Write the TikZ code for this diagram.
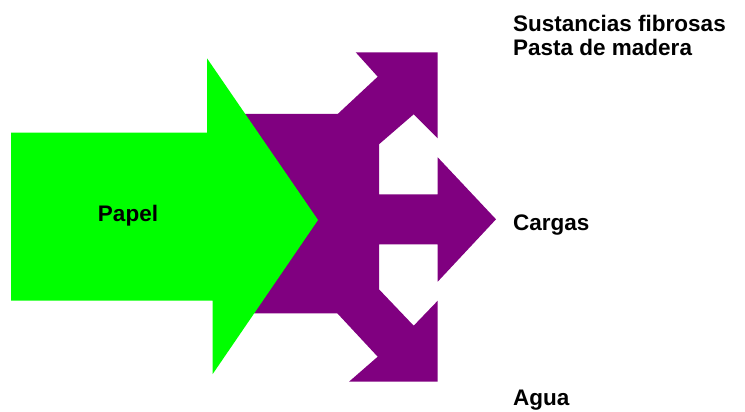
\documentclass[tikz,border=0pt]{standalone}
\usepackage{fontspec}
\setmainfont{Liberation Sans}
\usepackage{tikz}
\usetikzlibrary{positioning, calc}
\definecolor{papelgreen}{HTML}{00FF00}
\definecolor{splitpurple}{HTML}{800080}
\tikzset{
  inflow/.style={fill=papelgreen, draw=none},
  outflow/.style={fill=splitpurple, draw=none},
  flowlabel/.style={font=\fontsize{22.5}{27}\selectfont\bfseries, inner sep=0pt, anchor=base west},
}
\begin{document}
\begin{tikzpicture}[x=1pt, y=-1pt]
  \useasboundingbox (0,0) rectangle (745,412);

  % Split arrow (outputs)
  \fill[outflow] (230,114) -- (337.7,114) -- (377.7,76.7) -- (355.7,52.3) -- (437.7,52.3)
    -- (437.7,138.3) -- (413.7,114.3) -- (379,144.3) -- (379,194.3) -- (437.7,194.3)
    -- (437.7,157.3) -- (496,219.3) -- (437.7,281.7) -- (437.7,244.3) -- (379,244.3)
    -- (379,289.3) -- (413.7,325.7) -- (437.7,300.7) -- (437.7,381.7) -- (349,381.7)
    -- (377.7,356.7) -- (337.3,313.3) -- (230,313.3) -- cycle;

  % Input arrow
  \fill[inflow] (11,132.7) -- (207,132.7) -- (207,58.3) -- (318,220) -- (212.7,374)
    -- (212.7,300.7) -- (11,300.7) -- cycle;

  % Labels
  \node[flowlabel, anchor=base] (papel) at (128,221) {Papel};
  \node[flowlabel] (fibras) at (513,31.5) {Sustancias fibrosas};
  \node[flowlabel] (pasta) at (513,56) {Pasta de madera};
  \node[flowlabel] (cargas) at (513,230.5) {Cargas};
  \node[flowlabel] (agua) at (513,405) {Agua};
\end{tikzpicture}
\end{document}
